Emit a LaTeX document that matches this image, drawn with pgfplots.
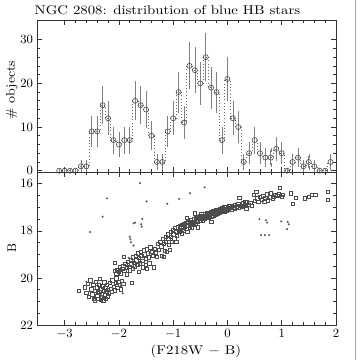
\documentclass[border=0pt]{standalone}
\usepackage{graphicx}
\usepackage{pgfplots}
\pgfplotsset{compat=1.18}

\pgfplotstableread{
x n e
-3.1 0 0
-3.0 0 0
-2.9 0 0
-2.8 0 0
-2.7 1 1
-2.6 1 1
-2.5 9 3
-2.4 9 3
-2.3 15 3.87
-2.2 12 3.46
-2.1 7 2.65
-2.0 6 2.45
-1.9 7 2.65
-1.8 7 2.65
-1.7 16 4
-1.6 15 3.87
-1.5 14 3.74
-1.4 8 2.83
-1.3 2 1.41
-1.2 2 1.41
-1.1 9 3
-1.0 12 3.46
-0.9 18 4.24
-0.8 11 3.32
-0.7 24 4.9
-0.6 23 4.8
-0.5 20 4.47
-0.4 26 5.1
-0.3 19 4.36
-0.2 18 4.24
-0.1 7 2.65
0.0 21 4.58
0.1 12 3.46
0.2 10 3.16
0.3 2 1.41
0.4 4 2
0.5 7 2.65
0.6 4 2
0.7 3 1.73
0.8 3 1.73
0.9 5 2.24
1.0 4 2
1.1 0 0
1.2 2 1.41
1.3 3 1.73
1.4 1 1
1.5 2 1.41
1.6 1 1
1.7 0 0
1.8 0 0
1.9 2 1.41
}\hist

\pgfplotsset{
  panel/.style={
    scale only axis,
    width=8.29cm,
    xmin=-3.5, xmax=2,
    xtick={-3,-2,-1,0,1,2},
    minor x tick num=4,
    tick align=inside,
    major tick length=0.13cm,
    minor tick length=0.07cm,
    axis line style={black!80, line width=0.5pt},
    every tick/.style={black!80, line width=0.5pt},
    tick label style={font=\fontsize{10}{12}\selectfont},
    clip=false,
  }
}

\begin{document}
\begin{tikzpicture}
\path[use as bounding box] (0,0) rectangle (10,10);
\draw[black!35, line width=0.6pt] (9.86,0) -- (9.86,10);

% histogram
\begin{axis}[panel,
  at={(1.042cm,5.222cm)}, anchor=south west,
  height=4.222cm,
  ymin=-0.3, ymax=34.5,
  ytick={0,10,20,30},
  minor y tick num=4,
  xticklabels={},
]
\addplot[const plot mark mid, dotted, black!60, line width=0.5pt] table[x=x, y=n] {\hist};
\addplot[black!50, line width=0.5pt, mark=none, draw=none,
  error bars/.cd, y dir=both, y explicit,
  error bar style={black!50, line width=0.55pt},
  error mark options={black!50, mark size=1.6pt, line width=0.5pt}]
  table[x=x, y=n, y error=e] {\hist};
\addplot[only marks, mark=o, mark size=2pt, black!70, mark options={line width=0.5pt, fill=white}]
  table[x=x, y=n] {\hist};
\end{axis}

% colour-magnitude diagram
\begin{axis}[panel,
  at={(1.042cm,0.972cm)}, anchor=south west,
  height=4.25cm,
  y dir=reverse,
  ymin=15.5, ymax=22,
  ytick={16,18,20,22},
  minor y tick num=3,
]
\addplot[only marks, mark=square, mark size=1.3pt, black!70, mark options={line width=0.45pt}] coordinates {
(-2.74,20.55) (-2.63,20.40) (-2.60,20.62) (-2.57,20.25) (-2.55,20.80) (-2.53,20.10) (-2.51,20.48)
(-2.49,20.70) (-2.47,20.30) (-2.46,20.88) (-2.44,20.55) (-2.43,20.15) (-2.41,20.40) (-2.40,20.75)
(-2.38,20.90) (-2.37,20.28) (-2.36,20.60) (-2.35,20.05) (-2.33,20.45) (-2.32,20.82) (-2.31,20.68)
(-2.30,20.35) (-2.29,20.95) (-2.28,20.55) (-2.27,20.18) (-2.26,20.72) (-2.25,20.42) (-2.24,20.88)
(-2.23,20.60) (-2.22,20.30) (-2.21,20.78) (-2.20,20.50) (-2.18,20.65) (-2.17,20.22) (-2.15,20.45)
(-2.13,20.60) (-2.12,20.10) (-2.10,20.38) (-2.08,20.52) (-2.06,20.20) (-2.05,20.02) (-2.03,20.42)
(-2.01,20.15) (-1.99,20.30) (-1.97,20.48) (-1.95,20.12) (-1.92,20.25) (-2.45,20.95) (-2.34,20.92)
(-2.39,20.62) (-2.28,20.85)
(-2.07,19.70) (-2.05,19.82) (-2.03,19.65) (-2.00,19.75) (-1.98,19.55) (-1.96,19.80) (-1.94,19.62)
(-1.92,19.48) (-1.90,19.70) (-1.88,19.40) (-1.86,19.58) (-1.85,19.85) (-1.83,19.30) (-1.81,19.52)
(-1.80,19.68) (-1.78,19.22) (-1.77,19.42) (-1.75,19.60) (-1.74,19.12) (-1.72,19.35) (-1.71,19.50)
(-1.69,19.05) (-1.68,19.25) (-1.66,19.45) (-1.65,18.95) (-1.63,19.15) (-1.62,19.38) (-1.60,18.88)
(-1.59,19.05) (-1.57,19.28) (-1.56,19.55) (-1.54,18.82) (-1.53,19.00) (-1.51,19.20) (-1.50,19.45)
(-1.48,18.78) (-1.47,18.95) (-1.45,19.12) (-1.44,19.38) (-1.42,18.70) (-1.40,18.90) (-1.38,19.05)
(-1.36,19.55) (-1.34,18.75) (-1.32,18.92) (-1.30,19.10) (-1.76,20.20) (-1.64,19.75) (-1.48,19.60)
(-2.07,19.35) (-1.91,19.10)
(-1.28,18.55) (-1.26,18.80) (-1.24,18.45) (-1.22,18.65) (-1.21,19.05) (-1.19,18.35) (-1.17,18.55)
(-1.16,18.85) (-1.14,18.25) (-1.13,18.45) (-1.12,18.88) (-1.10,18.15) (-1.09,18.35) (-1.08,18.60)
(-1.06,18.80) (-1.05,18.05) (-1.04,18.25) (-1.02,18.45) (-1.01,17.95) (-1.00,18.15) (-0.98,18.32)
(-0.97,17.88) (-0.95,18.05) (-0.94,18.45) (-0.93,18.22) (-0.91,17.85) (-0.90,18.00) (-1.17,19.10)
(-0.88,17.80) (-0.88,18.05) (-0.86,17.95) (-0.84,17.75) (-0.84,18.10) (-0.82,17.88) (-0.80,17.70)
(-0.80,17.98) (-0.78,17.82) (-0.76,17.65) (-0.76,17.92) (-0.74,17.78) (-0.74,18.05) (-0.72,17.60)
(-0.70,17.72) (-0.70,17.88) (-0.68,17.55) (-0.66,17.68) (-0.66,17.85) (-0.64,17.60) (-0.62,17.48)
(-0.62,17.75) (-0.60,17.62) (-0.58,17.45) (-0.58,17.70) (-0.56,17.55) (-0.54,17.40) (-0.54,17.62)
(-0.52,17.50) (-0.50,17.38) (-0.50,17.58) (-0.48,17.45) (-0.48,17.28) (-0.46,17.35) (-0.46,17.55)
(-0.44,17.42) (-0.42,17.30) (-0.42,17.50) (-0.40,17.38) (-0.38,17.25) (-0.38,17.45) (-0.36,17.32)
(-0.34,17.22) (-0.34,17.42) (-0.32,17.30) (-0.30,17.20) (-0.30,17.38) (-0.28,17.26) (-0.26,17.15)
(-0.26,17.34) (-0.24,17.22) (-0.22,17.12) (-0.22,17.30) (-0.20,17.20) (-0.18,17.10) (-0.18,17.26)
(-0.16,17.16) (-0.14,17.06) (-0.14,17.24) (-0.12,17.14) (-0.10,17.04) (-0.10,17.20) (-0.08,17.10)
(-0.06,17.00) (-0.06,17.18) (-0.04,17.08) (-0.02,16.98) (-0.02,17.15) (0.00,17.05) (0.02,16.96)
(0.02,17.12) (0.05,17.02) (0.08,16.92) (0.08,17.08) (0.11,17.00) (0.14,16.90) (0.14,17.05)
(0.17,16.96) (0.20,16.86) (0.20,17.02) (0.24,16.92) (0.28,16.82) (0.28,16.98) (0.32,16.90)
(0.36,16.78) (0.40,16.88) (-0.60,17.25) (0.22,16.60) (-0.55,17.85) (-0.30,17.60) (-0.75,17.45)
(0.42,16.80) (0.45,16.95) (0.48,16.47) (0.50,16.72) (0.53,16.33) (0.55,16.62) (0.57,16.75)
(0.60,16.55) (0.63,16.68) (0.66,16.50) (0.68,16.78) (0.70,16.60) (0.73,16.45) (0.75,16.70)
(0.78,16.58) (0.80,16.40) (0.83,16.62) (0.86,16.55) (0.88,16.48) (0.92,16.52) (0.95,16.45)
(0.97,16.16) (1.00,16.55) (1.02,16.48) (1.17,16.40) (1.20,16.85) (1.26,16.60) (1.42,16.62)
(1.50,16.55) (1.55,16.48) (1.62,16.48) (1.85,16.33) (1.85,16.67) (0.30,16.95) (0.35,17.05)
(0.33,16.78)
};
\addplot[only marks, mark=*, mark size=0.6pt, black!65] coordinates {
(-2.53,18.05) (-2.30,17.40) (-2.22,16.62) (-1.61,15.97) (-1.49,16.75) (-1.11,16.85) (-0.89,16.64)
(-0.69,16.40) (-0.42,16.15) (-1.57,17.50) (-1.70,17.65) (-1.59,17.72) (-1.73,17.68) (-1.58,17.82)
(-1.80,18.25) (-1.79,18.35) (-1.78,18.48) (-1.73,18.62) (-1.93,20.65) (-1.96,20.30) (0.59,17.50)
(0.71,17.55) (0.73,17.65) (0.99,17.60) (1.11,17.62) (1.13,17.72) (1.10,17.93) (0.62,18.18)
(0.69,18.18) (0.77,18.18) (-2.60,20.16) (-2.32,20.75) (-1.82,19.15) (-1.62,19.35)
};
\end{axis}

\node at (4.65,9.72) {\scalebox{1.17}[1]{NGC 2808: distribution of blue HB stars}};
\node[rotate=90] at (0.33,7.5) {\scalebox{1.1}[1]{\# objects}};
\node[rotate=90] at (0.33,3.11) {B};
\node at (5.44,0.24) {\scalebox{1.17}[1]{(F218W $-$ B)}};
\end{tikzpicture}
\end{document}
